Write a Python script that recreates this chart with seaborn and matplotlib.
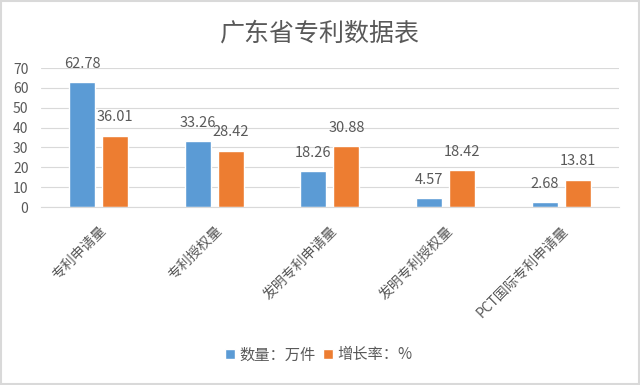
import matplotlib
matplotlib.use("Agg")
import matplotlib.pyplot as plt
import seaborn as sns
import pandas as pd

# 数据
categories = ["专利申请量", "专利授权量", "发明专利申请量", "发明专利授权量", "PCT国际专利申请量"]
series_names = ["数量：万件", "增长率：%"]
count_vals = [62.78, 33.26, 18.26, 4.57, 2.68]
rate_vals = [36.01, 28.42, 30.88, 18.42, 13.81]

df = pd.DataFrame({
    "类别": categories * 2,
    "系列": [series_names[0]] * len(categories) + [series_names[1]] * len(categories),
    "值": count_vals + rate_vals,
})

sns.set_style("white")
plt.rcParams["font.family"] = ["Noto Sans CJK SC", "DejaVu Sans"]
plt.rcParams["axes.unicode_minus"] = False

txt = "#595959"
fig = plt.figure(figsize=(6.4, 3.85), dpi=100)
ax = fig.add_axes([0.064, 0.4623, 0.903, 0.361])

sns.barplot(data=df, x="类别", y="值", hue="系列", order=categories,
            hue_order=series_names, palette=["#5B9BD5", "#ED7D31"],
            saturation=1, width=0.57, gap=0.21, ax=ax, legend=True)

for c in ax.containers:
    ax.bar_label(c, fmt="%.2f", padding=8, fontsize=10.5, color=txt)

ax.set_ylim(0, 70)
ax.set_yticks(range(0, 71, 10))
ax.set_xlim(-0.5, 4.5)
ax.grid(axis="y", color="#d9d9d9", linewidth=0.8)
ax.set_axisbelow(True)
for s in ["top", "right", "left"]:
    ax.spines[s].set_visible(False)
ax.spines["bottom"].set_color("#d9d9d9")
ax.tick_params(axis="both", length=0, colors=txt, labelsize=10)
ax.tick_params(axis="y", pad=9)
ax.tick_params(axis="x", pad=12)
ax.set_xlabel("")
ax.set_ylabel("")
plt.setp(ax.get_xticklabels(), rotation=45, ha="right", rotation_mode="anchor")

fig.text(0.5, 0.912, "广东省专利数据表", ha="center", va="center", fontsize=18, color=txt)

handles, labels = ax.get_legend_handles_labels()
ax.get_legend().remove()
fig.legend(handles, labels, loc="center", bbox_to_anchor=(0.498, 0.078), ncol=2,
           frameon=False, fontsize=11, handlelength=0.65, handleheight=0.65,
           handletextpad=0.3, columnspacing=0.45, labelcolor=txt)

fig.patches.append(plt.Rectangle((0.002, 0.003), 0.996, 0.994, transform=fig.transFigure,
                                 fill=False, edgecolor="#d9d9d9", linewidth=1.5))

fig.savefig("out.png", dpi=100, facecolor="white")
